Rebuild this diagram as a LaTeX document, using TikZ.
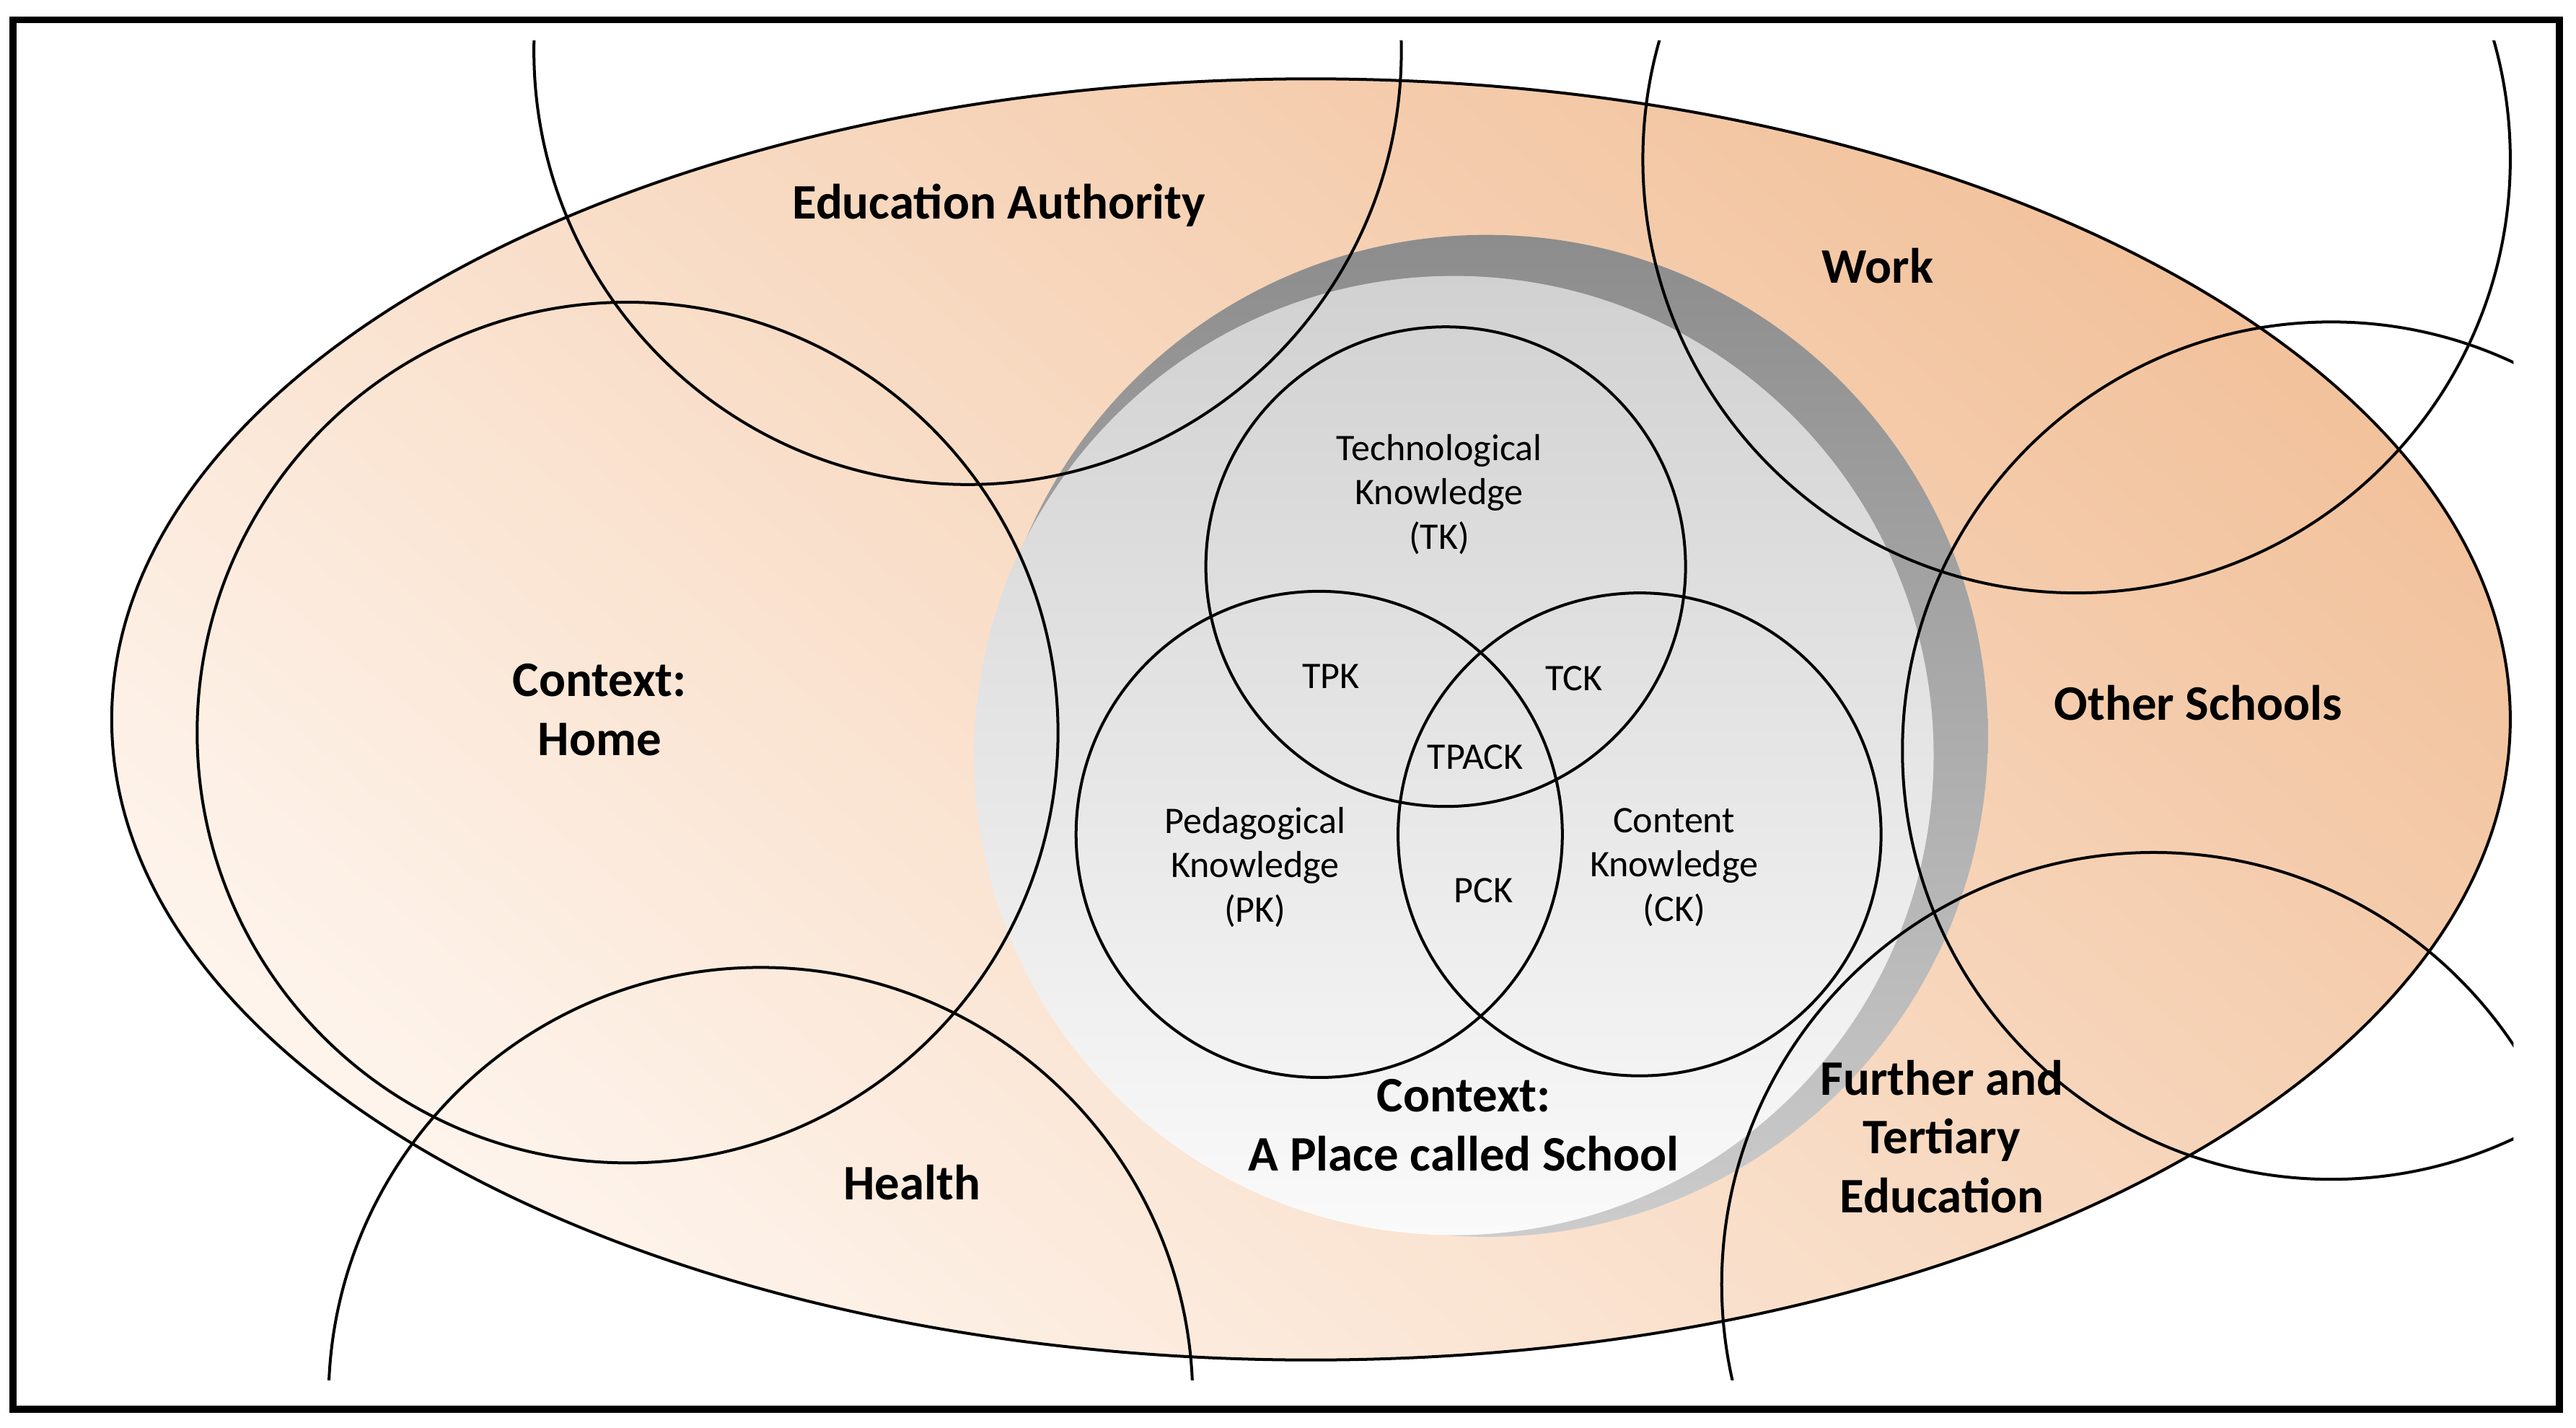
\documentclass[tikz,border=0pt]{standalone}
\usepackage{fontspec}
\setmainfont{Carlito}
\usetikzlibrary{shapes}
\definecolor{peach}{HTML}{F2C29C}
\definecolor{peachlight}{HTML}{FEF4EC}
\tikzset{
  ring/.style={draw=black, line width=0.5pt},
  biglabel/.style={font=\fontsize{8.6}{10.2}\selectfont\bfseries, align=center},
  smalllabel/.style={font=\fontsize{6.5}{7.7}\selectfont, align=center}
}

\begin{document}
\begin{tikzpicture}[x=0.01cm, y=-0.01cm]
    \useasboundingbox (0,0) rectangle (1568,869.4);
    % frame
    \draw[line width=1.2pt] (8,12) rectangle (1558,858);

    % outer context ellipse
    \shade[top color=peach, bottom color=peachlight, shading angle=-40, draw=black, line width=0.5pt]
        (798,438) ellipse [x radius=730, y radius=390];

    % the school: shadow then disc
    \shade[top color=black!45, bottom color=black!20] (905,448) circle [radius=305];
    \shade[top color=black!18, bottom color=black!2] (885,460) circle [radius=292];

    % outside circles, cut at the frame
    \begin{scope}
      \clip (0,25) rectangle (1530,840);
      \draw[ring] (589,31) circle [radius=264];
      \draw[ring] (382,446) circle [radius=262];
      \draw[ring] (463,852) circle [radius=263];
      \draw[ring] (1264,97) circle [radius=264];
      \draw[ring] (1419,457) circle [radius=261];
      \draw[ring] (1311,782) circle [radius=263];
    \end{scope}

    % TPACK circles
    \draw[ring] (880,345) circle [radius=146];
    \draw[ring] (803,508) circle [radius=148];
    \draw[ring] (998,508) circle [radius=147];

    % labels
    \node[biglabel] (edu) at (608,125) {Education Authority};
    \node[biglabel] (work) at (1143,162) {Work};
    \node[biglabel] (home) at (365,432) {Context:\\Home};
    \node[biglabel] (other) at (1338,428) {Other Schools};
    \node[biglabel] (health) at (555,720) {Health};
    \node[biglabel] (further) at (1182,692) {Further and\\Tertiary\\Education};
    \node[biglabel] (school) at (891,685) {Context:\\A Place called School};

    \node[smalllabel] (tk) at (876,301) {Technological\\Knowledge\\(TK)};
    \node[smalllabel] (tpk) at (810,412) {TPK};
    \node[smalllabel] (tck) at (958,413) {TCK};
    \node[smalllabel] (tpack) at (898,461) {TPACK};
    \node[smalllabel] (pk) at (764,528) {Pedagogical\\Knowledge\\(PK)};
    \node[smalllabel] (pck) at (903,542) {PCK};
    \node[smalllabel] (ck) at (1019,528) {Content\\Knowledge\\(CK)};
\end{tikzpicture}
\end{document}
